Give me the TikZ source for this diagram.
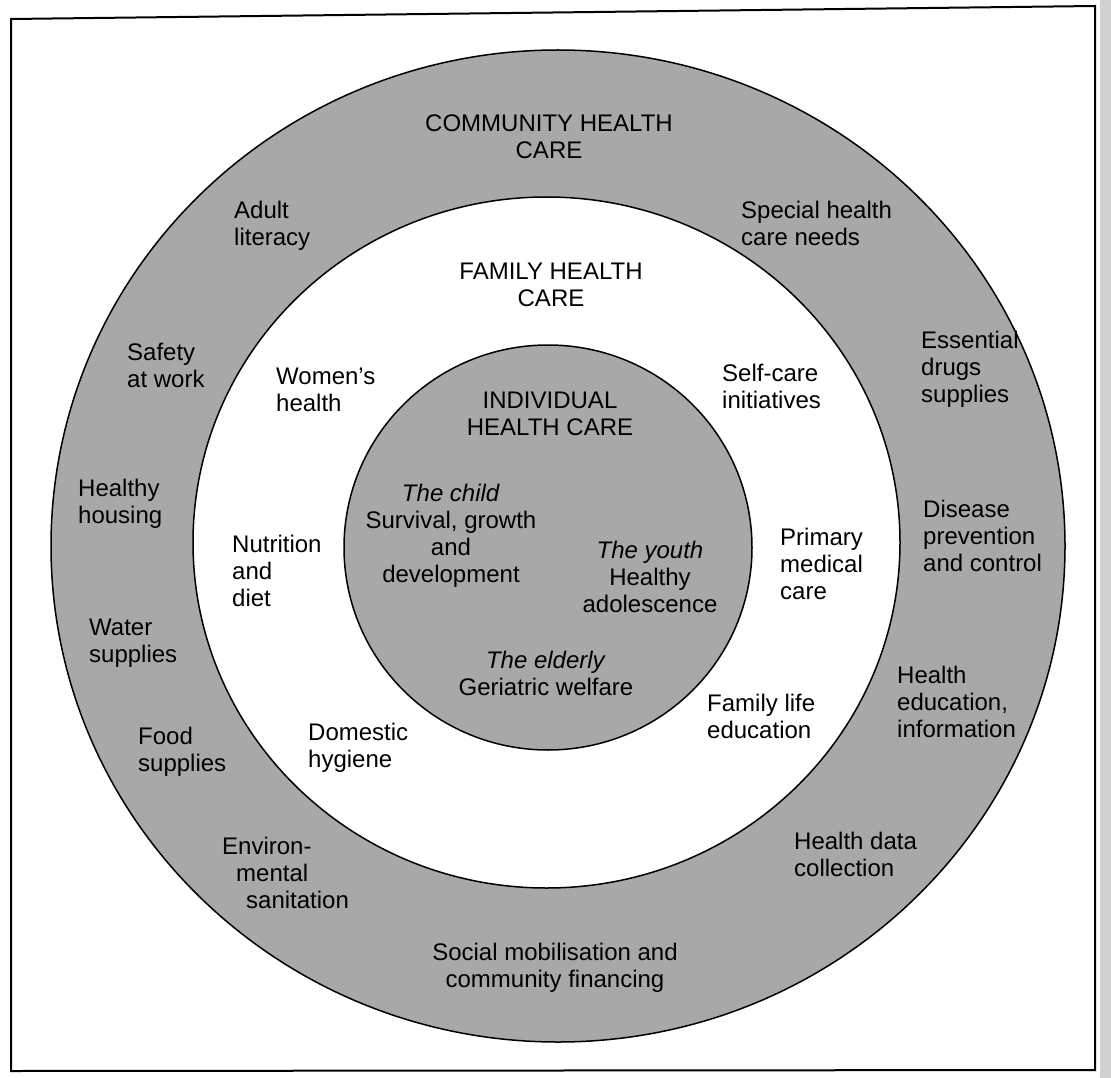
\documentclass[tikz,border=0pt]{standalone}
\usepackage{fontspec}
\setmainfont{Liberation Sans}
\definecolor{ringgray}{gray}{0.66}

\begin{document}
\begin{tikzpicture}[x=1pt,y=-1pt,
  lbl/.style={font=\fontsize{24}{27}\selectfont,inner sep=0pt,align=left,anchor=west},
  head/.style={font=\fontsize{24}{27}\selectfont,inner sep=0pt,align=center},
  ring/.style={line width=1.5pt}]
  \useasboundingbox (0,0) rectangle (1111,1078);
  % frame and scan edge
  \fill[black!18] (1100,0) rectangle (1111,1078);
  \draw[line width=2pt] (11,19) -- (1095,6) -- (1095,1070) -- (11,1071) -- cycle;
  % community ring
  \fill[ringgray] (558,546) ellipse [x radius=507,y radius=496];
  \draw[ring] (558,546) ellipse [x radius=507,y radius=496];
  % family ring
  \fill[white] (546.5,542.5) ellipse [x radius=353.5,y radius=345.5];
  \draw[ring] (546.5,542.5) ellipse [x radius=353.5,y radius=345.5];
  % individual disc
  \fill[ringgray] (548,547.5) ellipse [x radius=204,y radius=202.5];
  \draw[ring] (548,547.5) ellipse [x radius=204,y radius=202.5];

  % community health care
  \node[head] (community) at (549,137) {COMMUNITY HEALTH\\CARE};
  \node[lbl] (adult) at (234,225.5) {Adult\\literacy};
  \node[lbl] (special) at (741,223) {Special health\\care needs};
  \node[lbl] (safety) at (127,365.5) {Safety\\at work};
  \node[lbl] (essential) at (921,369) {Essential\\drugs\\supplies};
  \node[lbl] (housing) at (78,503.5) {Healthy\\housing};
  \node[lbl] (disease) at (923,536) {Disease\\prevention\\and control};
  \node[lbl] (water) at (89,643.5) {Water\\supplies};
  \node[lbl] (healthedu) at (897,702) {Health\\education,\\information};
  \node[lbl] (food) at (138,751.5) {Food\\supplies};
  \node[lbl] (datacoll) at (794,854.5) {Health data\\collection};
  \node[lbl] (environ) at (222,873) {Environ-\\\hspace*{14pt}mental\\\hspace*{24pt}sanitation};
  \node[head] (social) at (555,968) {Social mobilisation and\\community financing};

  % family health care
  \node[head] (family) at (551,285) {FAMILY HEALTH\\CARE};
  \node[lbl] (womens) at (276,390) {Women's\\health};
  \node[lbl] (selfcare) at (722,386.5) {Self-care\\initiatives};
  \node[lbl] (nutrition) at (232,571) {Nutrition\\and\\diet};
  \node[lbl] (primary) at (780,564) {Primary\\medical\\care};
  \node[lbl] (domestic) at (308,747.5) {Domestic\\hygiene};
  \node[lbl] (familylife) at (707,716.5) {Family life\\education};

  % individual health care
  \node[head] (individual) at (550,413.5) {INDIVIDUAL\\HEALTH CARE};
  \node[head] (child) at (451,536) {\textit{The child}\\Survival, growth\\and\\development};
  \node[head] (youth) at (650,577) {\textit{The youth}\\Healthy\\adolescence};
  \node[head] (elderly) at (546,673.5) {\textit{The elderly}\\Geriatric welfare};
\end{tikzpicture}
\end{document}
